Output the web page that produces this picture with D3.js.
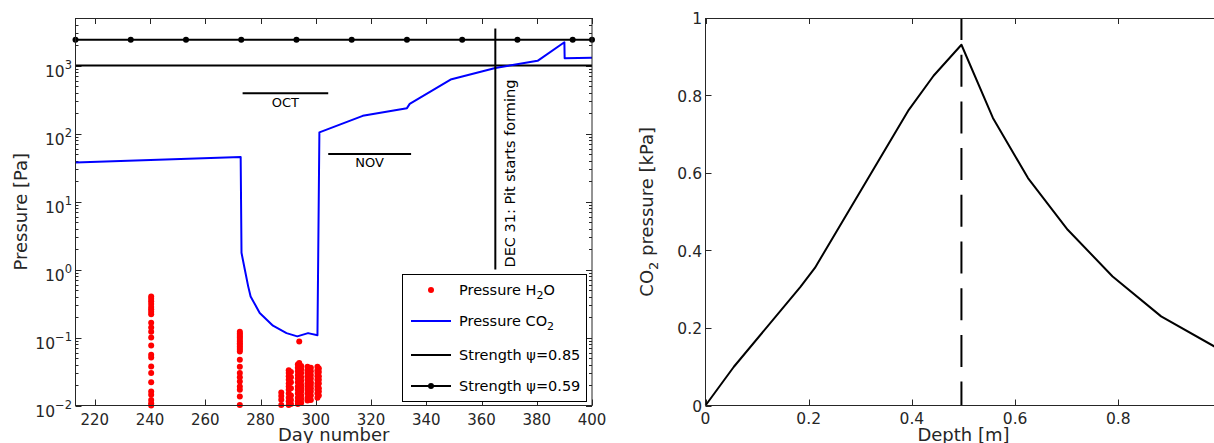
<!DOCTYPE html>
<html><head><meta charset="utf-8">
<script src="https://cdn.jsdelivr.net/npm/d3@7"></script>
<style>
body{margin:0;background:#fff}
text{font-family:"DejaVu Sans",sans-serif;fill:#262626}
</style>
</head><body>
<svg id="c" width="1214" height="443"></svg>
<script>
// ---------- DATA (left panel) ----------
const xTicksLeft = [220, 240, 260, 280, 300, 320, 340, 360, 380, 400];
const yExponents = [-2, -1, 0, 1, 2, 3];

const co2Days = [213, 272.8, 273.1, 274.3, 275.5, 276.4, 279.7, 284.5, 289.4, 293.3, 297.2, 300.6, 301.3, 317, 333, 334, 348.8, 365, 380.3, 390, 390.1, 400];
const co2Vals = [37.5, 45, 1.76, 1.0, 0.57, 0.4, 0.23, 0.149, 0.116, 0.104, 0.116, 0.108, 104, 182, 236, 273, 622, 920, 1172, 2200, 1277, 1300];

const strength085 = 1000;
const strength059 = 2400;
const strength059MarkerDays = [213, 233, 253, 273, 293, 313, 333, 353, 373, 393, 400];

const pitDay = 365;
const pitRange = [1, 3500];
const pitLabel = "DEC 31: Pit starts forming";

const monthBars = [
  {label: "OCT", start: 274, end: 304, value: 392},
  {label: "NOV", start: 305, end: 334, value: 50}
];

// H2O pressure samples: one array of values per sampling day
const h2oDays = [240.4, 272.5, 287.5, 290.2, 291.0, 293.5, 294.0, 294.7, 297.0, 298.2, 300.6, 301.1];
const h2oVals = [
  [0.40, 0.37, 0.34, 0.31, 0.28, 0.26, 0.24, 0.22, 0.165, 0.14, 0.122, 0.10, 0.076, 0.056, 0.051, 0.0375, 0.030, 0.022, 0.016, 0.0144, 0.012, 0.0108, 0.010],
  [0.122, 0.115, 0.109, 0.103, 0.098, 0.092, 0.087, 0.082, 0.078, 0.074, 0.070, 0.066, 0.062, 0.047, 0.037, 0.030, 0.026, 0.0225, 0.019, 0.017, 0.0136, 0.0102],
  [0.0155, 0.0138, 0.0121, 0.0102],
  [0.033, 0.030, 0.027, 0.024, 0.021, 0.019, 0.017, 0.015, 0.013, 0.0115, 0.0102],
  [0.031, 0.026, 0.022, 0.018, 0.014, 0.012, 0.0105],
  [0.040, 0.036, 0.032, 0.028, 0.025, 0.022, 0.019, 0.017, 0.015, 0.013, 0.0115, 0.0105],
  [0.087, 0.042, 0.037, 0.033, 0.029, 0.026, 0.023, 0.020, 0.018, 0.016, 0.014, 0.012],
  [0.038, 0.034, 0.030, 0.026, 0.023, 0.020, 0.018, 0.016, 0.014, 0.0125, 0.011],
  [0.037, 0.033, 0.030, 0.027, 0.024, 0.021, 0.019, 0.017, 0.015, 0.013, 0.0118],
  [0.036, 0.032, 0.028, 0.025, 0.022, 0.020, 0.018, 0.016, 0.014, 0.012],
  [0.037, 0.033, 0.030, 0.027, 0.024, 0.021, 0.019, 0.017, 0.015, 0.013],
  [0.035, 0.031, 0.027, 0.024, 0.021, 0.018, 0.016, 0.014]
];

// ---------- DATA (right panel) ----------
const depth = [0, 0.055, 0.184, 0.212, 0.394, 0.442, 0.496, 0.557, 0.625, 0.702, 0.789, 0.883, 1.0];
const co2kPa = [0, 0.10, 0.306, 0.355, 0.763, 0.851, 0.931, 0.742, 0.587, 0.4535, 0.333, 0.23, 0.142];
const peakDepth = 0.496;
const xTicksRight = [0, 0.2, 0.4, 0.6, 0.8];
const yTicksRight = [0, 0.2, 0.4, 0.6, 0.8, 1];

// ---------- DRAW ----------
const svg = d3.select("#c");
const AX = "#262626";

// Left panel scales
const L = {x0: 75.5, x1: 592, y0: 405.5, y1: 18};
const xL = d3.scaleLinear().domain([213, 400]).range([L.x0, L.x1]);
const yL = d3.scaleLog().domain([0.01, 5000]).range([L.y0, L.y1]);

const gL = svg.append("g");
gL.append("defs").append("clipPath").attr("id", "clipL")
  .append("rect").attr("x", L.x0).attr("y", L.y1).attr("width", L.x1 - L.x0).attr("height", L.y0 - L.y1);

// log ticks (major & minor), both sides, inward
const logTicks = [];
yExponents.forEach(e => {
  for (let k = 1; k <= 9; k++) {
    const v = k * Math.pow(10, e);
    if (v <= 5000) logTicks.push({v, major: k === 1});
  }
});
logTicks.forEach(t => {
  const y = Math.round(yL(t.v)) + 0.5;
  const len = t.major ? 6 : 3;
  gL.append("line").attr("x1", L.x0).attr("x2", L.x0 + len).attr("y1", y).attr("y2", y).attr("stroke", AX);
  gL.append("line").attr("x1", L.x1).attr("x2", L.x1 - len).attr("y1", y).attr("y2", y).attr("stroke", AX);
});
// x ticks top & bottom
xTicksLeft.forEach(t => {
  const x = Math.round(xL(t)) + 0.5;
  gL.append("line").attr("x1", x).attr("x2", x).attr("y1", L.y0).attr("y2", L.y0 - 6).attr("stroke", AX);
  gL.append("line").attr("x1", x).attr("x2", x).attr("y1", L.y1).attr("y2", L.y1 + 6).attr("stroke", AX);
  gL.append("text").attr("x", xL(t)).attr("y", 424.5).attr("text-anchor", "middle")
    .style("font-size", "15px").text(t);
});
// y tick labels 10^e
yExponents.forEach(e => {
  const y = yL(Math.pow(10, e));
  const t = gL.append("text").attr("x", 72).attr("y", y + 11).attr("text-anchor", "end").style("font-size", "15.5px");
  t.append("tspan").text("10");
  t.append("tspan").attr("dy", -8).style("font-size", "11.5px").text(e < 0 ? "\u2212" + Math.abs(e) : e);
});

// Data (clipped lines)
const dL = gL.append("g").attr("clip-path", "url(#clipL)");
dL.append("line").attr("x1", xL(213)).attr("x2", xL(400)).attr("y1", yL(strength085)).attr("y2", yL(strength085))
  .attr("stroke", "#000").attr("stroke-width", 2);
dL.append("line").attr("x1", xL(213)).attr("x2", xL(400)).attr("y1", yL(strength059)).attr("y2", yL(strength059))
  .attr("stroke", "#000").attr("stroke-width", 2);
const co2 = co2Days.map((d, i) => [d, co2Vals[i]]);
dL.append("path").datum(co2)
  .attr("d", d3.line().x(d => xL(d[0])).y(d => yL(d[1])))
  .attr("fill", "none").attr("stroke", "#0000ff").attr("stroke-width", 2).attr("stroke-linejoin", "round");

// Month bars
monthBars.forEach(m => {
  gL.append("line").attr("x1", xL(m.start - 0.5)).attr("x2", xL(m.end + 0.5)).attr("y1", yL(m.value)).attr("y2", yL(m.value))
    .attr("stroke", "#000").attr("stroke-width", 2);
  gL.append("text").attr("x", xL((m.start + m.end) / 2)).attr("y", yL(m.value) + 13.5).attr("text-anchor", "middle")
    .style("font-size", "13px").style("fill", "#000").text(m.label);
});

// Pit line
gL.append("line").attr("x1", xL(pitDay)).attr("x2", xL(pitDay)).attr("y1", yL(pitRange[0])).attr("y2", yL(pitRange[1]))
  .attr("stroke", "#000").attr("stroke-width", 2);
gL.append("text").attr("transform", `translate(${xL(pitDay) + 19.5},${yL(pitRange[0]) - 2}) rotate(-90)`)
  .style("font-size", "14.5px").style("fill", "#000").text(pitLabel);

// H2O dots (not clipped)
const h2o = [];
h2oDays.forEach((d, i) => h2oVals[i].forEach(v => h2o.push([d, v])));
gL.append("g").selectAll("circle").data(h2o).join("circle")
  .attr("cx", d => xL(d[0])).attr("cy", d => yL(d[1])).attr("r", 3).attr("fill", "#ff0000");

// Strength 0.59 markers
gL.append("g").selectAll("circle").data(strength059MarkerDays).join("circle")
  .attr("cx", d => xL(d)).attr("cy", yL(strength059)).attr("r", 3).attr("fill", "#000");

// Frame
gL.append("rect").attr("x", L.x0).attr("y", L.y1 + 0.5).attr("width", L.x1 - L.x0).attr("height", L.y0 - L.y1 - 0.5)
  .attr("fill", "none").attr("stroke", AX).attr("stroke-width", 1);

// Legend
const lg = gL.append("g");
lg.append("rect").attr("x", 402.5).attr("y", 274.5).attr("width", 184).attr("height", 127)
  .attr("fill", "#fff").attr("stroke", "#000").attr("stroke-width", 1);
const rows = [290, 321, 355, 386];
lg.append("circle").attr("cx", 431).attr("cy", rows[0]).attr("r", 3).attr("fill", "#ff0000");
lg.append("line").attr("x1", 411).attr("x2", 451).attr("y1", rows[1]).attr("y2", rows[1]).attr("stroke", "#0000ff").attr("stroke-width", 2);
lg.append("line").attr("x1", 411).attr("x2", 451).attr("y1", rows[2]).attr("y2", rows[2]).attr("stroke", "#000").attr("stroke-width", 2);
lg.append("line").attr("x1", 411).attr("x2", 451).attr("y1", rows[3]).attr("y2", rows[3]).attr("stroke", "#000").attr("stroke-width", 2);
lg.append("circle").attr("cx", 431).attr("cy", rows[3]).attr("r", 3).attr("fill", "#000");
function legText(y, parts) {
  const t = lg.append("text").attr("x", 459).attr("y", y + 5).style("font-size", "14.5px").style("fill", "#000");
  parts.forEach(p => {
    const s = t.append("tspan").text(p.t);
    if (p.sub) s.attr("dy", 4).style("font-size", "11px");
    if (p.back) s.attr("dy", -4);
  });
}
legText(rows[0], [{t: "Pressure H"}, {t: "2", sub: true}, {t: "O", back: true}]);
legText(rows[1], [{t: "Pressure CO"}, {t: "2", sub: true}]);
legText(rows[2], [{t: "Strength \u03c8=0.85"}]);
legText(rows[3], [{t: "Strength \u03c8=0.59"}]);

// Axis labels
svg.append("text").attr("x", (L.x0 + L.x1) / 2).attr("y", 441).attr("text-anchor", "middle")
  .style("font-size", "18px").text("Day number");
svg.append("text").attr("transform", `translate(27,${(L.y0 + L.y1) / 2}) rotate(-90)`).attr("text-anchor", "middle")
  .style("font-size", "18px").text("Pressure [Pa]");

// ---------- Right panel ----------
const R = {x0: 705.5, x1: 1221.5, y0: 405.5, y1: 18};
const xR = d3.scaleLinear().domain([0, 1]).range([R.x0, R.x1]);
const yR = d3.scaleLinear().domain([0, 1]).range([R.y0, R.y1]);
const gR = svg.append("g");

xTicksRight.forEach(t => {
  const x = Math.round(xR(t)) + 0.5;
  gR.append("line").attr("x1", x).attr("x2", x).attr("y1", R.y0).attr("y2", R.y0 - 6).attr("stroke", AX);
  gR.append("line").attr("x1", x).attr("x2", x).attr("y1", R.y1).attr("y2", R.y1 + 6).attr("stroke", AX);
  gR.append("text").attr("x", xR(t)).attr("y", 424).attr("text-anchor", "middle").style("font-size", "15.5px").text(t);
});
yTicksRight.forEach(t => {
  const y = Math.round(yR(t)) + 0.5;
  gR.append("line").attr("x1", R.x0).attr("x2", R.x0 + 6).attr("y1", y).attr("y2", y).attr("stroke", AX);
  gR.append("text").attr("x", 702).attr("y", yR(t) + 6).attr("text-anchor", "end").style("font-size", "15.5px").text(t);
});

// dashed peak line
gR.append("line").attr("x1", xR(peakDepth)).attr("x2", xR(peakDepth)).attr("y1", R.y1).attr("y2", R.y0)
  .attr("stroke", "#000").attr("stroke-width", 2).attr("stroke-dasharray", "32,14.7").attr("stroke-dashoffset", 10);

// profile
const prof = depth.map((d, i) => [d, co2kPa[i]]);
gR.append("path").datum(prof)
  .attr("d", d3.line().x(d => xR(d[0])).y(d => yR(d[1])))
  .attr("fill", "none").attr("stroke", "#000").attr("stroke-width", 2).attr("stroke-linejoin", "round");

// frame
gR.append("line").attr("x1", R.x0).attr("x2", R.x1).attr("y1", R.y1 + 0.5).attr("y2", R.y1 + 0.5).attr("stroke", AX);
gR.append("line").attr("x1", R.x0).attr("x2", R.x1).attr("y1", R.y0).attr("y2", R.y0).attr("stroke", AX);
gR.append("line").attr("x1", R.x0).attr("x2", R.x0).attr("y1", R.y1).attr("y2", R.y0).attr("stroke", AX);
gR.append("line").attr("x1", R.x1).attr("x2", R.x1).attr("y1", R.y1).attr("y2", R.y0).attr("stroke", AX);

svg.append("text").attr("x", (R.x0 + R.x1) / 2).attr("y", 441).attr("text-anchor", "middle")
  .style("font-size", "18px").text("Depth [m]");
const yl = svg.append("text").attr("transform", `translate(653,${(R.y0 + R.y1) / 2}) rotate(-90)`).attr("text-anchor", "middle")
  .style("font-size", "18px");
yl.append("tspan").text("CO");
yl.append("tspan").attr("dy", 5).style("font-size", "13px").text("2");
yl.append("tspan").attr("dy", -5).text(" pressure [kPa]");
</script>
</body></html>
